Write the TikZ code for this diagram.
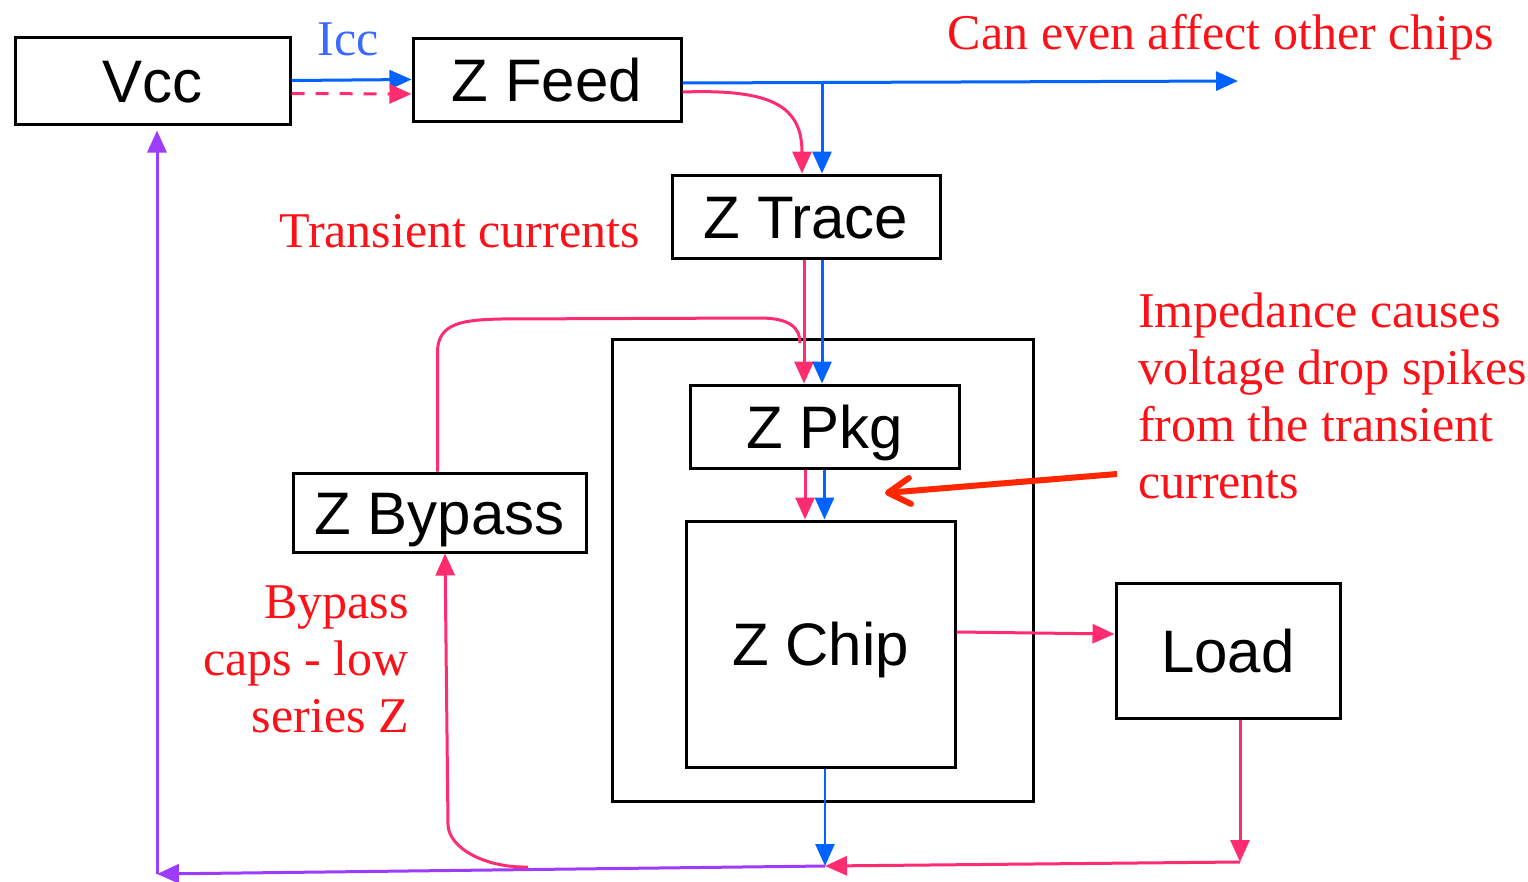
\documentclass[tikz,border=0pt]{standalone}
\usepackage{fontspec}
\setmainfont{Liberation Serif}
\setsansfont{Liberation Sans}
\usetikzlibrary{arrows.meta}
\definecolor{zpink}{RGB}{255,45,112}
\definecolor{zblue}{RGB}{0,98,255}
\definecolor{zpurple}{RGB}{155,60,255}
\definecolor{zred}{RGB}{250,18,24}
\definecolor{zorange}{RGB}{255,38,0}
\definecolor{iccblue}{RGB}{60,105,255}

\begin{document}
\begin{tikzpicture}[x=1pt,y=-1pt,
  block/.style={draw=black,line width=3pt,inner sep=0pt,text height=43pt,text depth=0pt,
    font=\sffamily\fontsize{60}{72}\selectfont},
  note/.style={inner sep=0pt,text=zred,font=\fontsize{50}{57}\selectfont},
  tip/.style={-{Triangle[length=22pt,width=19pt]}},
  bluearr/.style={zblue,line width=3pt,tip},
  pinkarr/.style={zpink,line width=3pt,tip},
  purparr/.style={zpurple,line width=3pt,tip}]
\useasboundingbox (0,0) rectangle (1528,881);
\node[block,minimum width=275pt,minimum height=87pt] (vcc) at (152.5,80.5) {Vcc};
\node[block,minimum width=268pt,minimum height=83pt] (feed) at (547,79.5) {Z Feed};
\node[block,minimum width=268pt,minimum height=83pt] (trace) at (806,216.5) {Z Trace};
\node[block,minimum width=421pt,minimum height=462pt] (pkgbox) at (822.5,570) {};
\node[block,minimum width=269pt,minimum height=83pt] (pkg) at (824.5,426.5) {Z Pkg};
\node[block,minimum width=269pt,minimum height=246pt] (chip) at (820.5,644) {Z Chip};
\node[block,minimum width=293pt,minimum height=79pt] (bypass) at (439.5,512.5) {Z Bypass};
\node[block,minimum width=224pt,minimum height=135pt] (load) at (1228,650.5) {Load};
\coordinate (other) at (1238,81);
\coordinate (tee) at (822,83);
\coordinate (join) at (800,343);
\coordinate (lcorner) at (1240,862);
\coordinate (ret) at (825,866);
\coordinate (vcorner) at (157,874);
\coordinate (bstart) at (528,867);
\coordinate (dropfrom) at (1117,474);
\coordinate (dropto) at (885,493);
\node[note,text=iccblue,anchor=base] (icc) at (348,55) {Icc};
\node[note,anchor=base] (chips) at (1221,49) {Can even affect other chips};
\node[note,anchor=base east] (transient) at (640,247) {Transient currents};
\node[note,align=left,anchor=north west] (impedance) at (1138,293) {Impedance causes\\voltage drop spikes\\from the transient\\currents};
\node[note,align=right,anchor=north east] (bypasscaps) at (409,586) {Bypass\\caps - low\\series Z};
\draw[bluearr] (vcc.east) -- (feed.west);
\draw[pinkarr,dash pattern=on 13pt off 11pt] ([yshift=-13pt]vcc.east) -- ([yshift=-14.5pt]feed.west);
\draw[bluearr] ([yshift=-3.5pt]feed.east) -- (other);
\draw[bluearr] (tee) -- (tee |- trace.north);
\draw[pinkarr] ([yshift=-12.5pt]feed.east) .. controls (770,89) and (802,105) .. ([xshift=-4pt]trace.north);
\draw[pinkarr] ([xshift=-2pt]trace.south) -- ([xshift=-20.5pt]pkg.north);
\draw[bluearr] ([xshift=16pt]trace.south) -- ([xshift=-2.5pt]pkg.north);
\draw[zpink,line width=3pt] ([xshift=-2pt]bypass.north) -- (437.5,352) .. controls (437.5,322) and (465,320) .. (500,319)
  -- (760,318) .. controls (790,318) and (800,328) .. (join);
\draw[pinkarr] ([xshift=-19.5pt]pkg.south) -- ([xshift=-15.5pt]chip.north);
\draw[bluearr] (pkg.south) -- ([xshift=4pt]chip.north);
\draw[zorange,line width=6pt,-{Straight Barb[round,length=22pt,width=26pt]}] (dropfrom) -- (dropto);
\draw[pinkarr] ([yshift=12pt]chip.east) -- ([yshift=16.5pt]load.west);
\draw[pinkarr] ([xshift=12pt]load.south) -- (lcorner);
\draw[pinkarr] (lcorner) -- (ret);
\draw[bluearr,line width=2.5pt] ([xshift=4.5pt]chip.south) -- (ret);
\draw[purparr] (ret) -- (vcorner);
\draw[purparr] (vcorner) -- ([yshift=-5pt]vcorner |- vcc.south);
\draw[pinkarr] (bstart) .. controls (485,868) and (449,848) .. (448,825) -- ([xshift=5.5pt]bypass.south);
\end{tikzpicture}
\end{document}
